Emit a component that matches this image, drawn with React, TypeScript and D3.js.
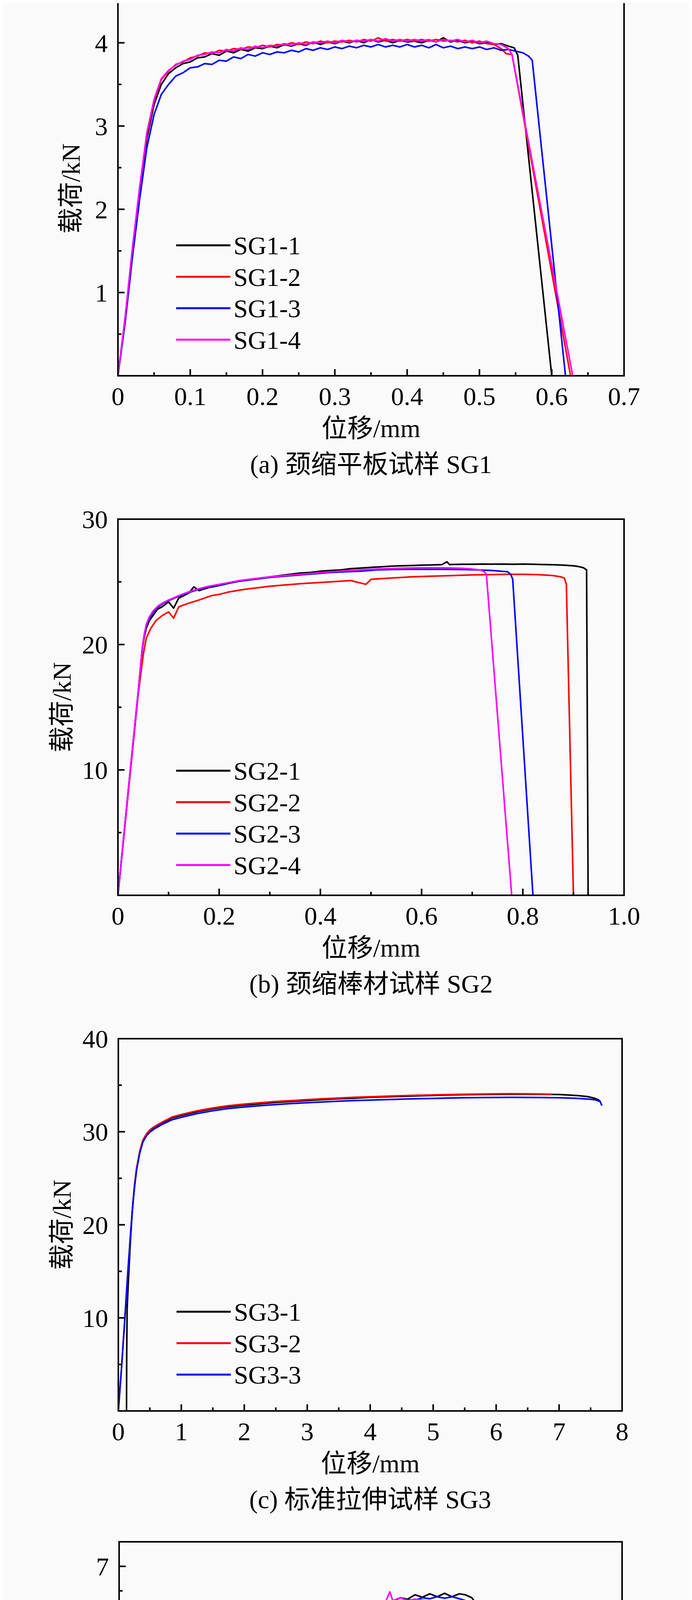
import * as d3 from "d3";

type Pt = [number, number];

// ---------- (a) SG1 ----------
const sg1_1: Pt[] = [[0,0],[0.01,0.68],[0.02,1.5],[0.03,2.22],[0.04,2.85],[0.05,3.26],[0.06,3.5],[0.07,3.63],[0.08,3.7],[0.09,3.75],[0.1,3.77],[0.11,3.82],[0.12,3.83],[0.13,3.87],[0.14,3.85],[0.15,3.9],[0.16,3.88],[0.17,3.92],[0.18,3.9],[0.19,3.94],[0.2,3.93],[0.21,3.96],[0.22,3.94],[0.23,3.98],[0.24,3.96],[0.25,3.99],[0.26,3.97],[0.27,4.01],[0.28,3.98],[0.29,4.01],[0.3,3.99],[0.31,4.02],[0.32,4.0],[0.33,4.03],[0.34,4.0],[0.35,4.04],[0.36,4.01],[0.37,4.03],[0.38,4.0],[0.39,4.03],[0.4,4.01],[0.41,4.02],[0.42,4.0],[0.43,4.03],[0.44,4.01],[0.45,4.06],[0.46,4.01],[0.47,4.03],[0.48,4.0],[0.49,4.02],[0.5,3.99],[0.51,4.0],[0.52,3.98],[0.53,3.99],[0.54,3.96],[0.548,3.94],[0.553,3.85],[0.6,0]];
const sg1_2: Pt[] = [[0,0],[0.01,0.7],[0.02,1.52],[0.03,2.25],[0.04,2.9],[0.05,3.3],[0.06,3.56],[0.07,3.66],[0.08,3.74],[0.09,3.77],[0.1,3.82],[0.11,3.84],[0.12,3.88],[0.13,3.87],[0.14,3.91],[0.15,3.9],[0.16,3.93],[0.17,3.92],[0.18,3.95],[0.19,3.94],[0.2,3.97],[0.21,3.95],[0.22,3.98],[0.23,3.97],[0.24,4.0],[0.25,3.98],[0.26,4.01],[0.27,3.99],[0.28,4.02],[0.29,4.0],[0.3,4.02],[0.31,4.01],[0.32,4.03],[0.33,4.01],[0.34,4.04],[0.35,4.02],[0.36,4.06],[0.37,4.02],[0.38,4.04],[0.39,4.02],[0.4,4.04],[0.41,4.02],[0.42,4.04],[0.43,4.02],[0.44,4.04],[0.45,4.02],[0.46,4.03],[0.47,4.01],[0.48,4.03],[0.49,4.0],[0.5,4.02],[0.51,3.99],[0.52,3.98],[0.53,3.93],[0.537,3.87],[0.545,3.86],[0.626,0]];
const sg1_3: Pt[] = [[0,0],[0.01,0.64],[0.02,1.42],[0.03,2.12],[0.04,2.74],[0.05,3.14],[0.06,3.38],[0.07,3.5],[0.08,3.6],[0.09,3.64],[0.1,3.7],[0.11,3.71],[0.12,3.75],[0.13,3.74],[0.14,3.79],[0.15,3.78],[0.16,3.83],[0.17,3.81],[0.18,3.86],[0.19,3.84],[0.2,3.88],[0.21,3.86],[0.22,3.89],[0.23,3.88],[0.24,3.91],[0.25,3.89],[0.26,3.93],[0.27,3.91],[0.28,3.94],[0.29,3.92],[0.3,3.95],[0.31,3.93],[0.32,3.96],[0.33,3.94],[0.34,3.97],[0.35,3.95],[0.36,3.98],[0.37,3.95],[0.38,3.97],[0.39,3.95],[0.4,3.98],[0.41,3.95],[0.42,3.97],[0.43,3.94],[0.44,3.98],[0.45,3.94],[0.46,3.96],[0.47,3.93],[0.48,3.95],[0.49,3.93],[0.5,3.95],[0.51,3.92],[0.52,3.94],[0.53,3.91],[0.54,3.92],[0.55,3.9],[0.56,3.88],[0.568,3.84],[0.573,3.79],[0.619,0]];
const sg1_4: Pt[] = [[0,0],[0.01,0.7],[0.02,1.53],[0.03,2.26],[0.04,2.92],[0.05,3.32],[0.06,3.57],[0.07,3.67],[0.08,3.73],[0.09,3.78],[0.1,3.8],[0.11,3.85],[0.12,3.86],[0.13,3.89],[0.14,3.88],[0.15,3.92],[0.16,3.9],[0.17,3.94],[0.18,3.92],[0.19,3.96],[0.2,3.94],[0.21,3.97],[0.22,3.96],[0.23,3.99],[0.24,3.97],[0.25,4.0],[0.26,3.98],[0.27,4.01],[0.28,4.0],[0.29,4.02],[0.3,4.0],[0.31,4.03],[0.32,4.01],[0.33,4.03],[0.34,4.02],[0.35,4.04],[0.36,4.02],[0.37,4.05],[0.38,4.02],[0.39,4.04],[0.4,4.02],[0.41,4.04],[0.42,4.02],[0.43,4.04],[0.44,4.01],[0.45,4.04],[0.46,4.02],[0.47,4.04],[0.48,4.01],[0.49,4.03],[0.5,4.0],[0.51,4.02],[0.52,3.99],[0.53,3.98],[0.54,3.93],[0.545,3.86],[0.629,0]];

// ---------- (b) SG2 ----------
const sg2_1: Pt[] = [[0,0],[0.01,4.1],[0.02,8.2],[0.03,12.2],[0.04,16.2],[0.048,19.6],[0.052,20.6],[0.056,21.3],[0.062,21.9],[0.069,22.3],[0.078,22.8],[0.087,23.0],[0.1,23.4],[0.11,22.9],[0.12,23.7],[0.14,24.1],[0.15,24.6],[0.16,24.3],[0.18,24.55],[0.2,24.7],[0.22,24.9],[0.24,25.05],[0.26,25.2],[0.28,25.3],[0.3,25.4],[0.32,25.5],[0.34,25.6],[0.36,25.7],[0.38,25.75],[0.4,25.85],[0.42,25.9],[0.44,25.95],[0.46,26.05],[0.48,26.1],[0.5,26.15],[0.52,26.2],[0.54,26.25],[0.56,26.28],[0.58,26.3],[0.6,26.33],[0.62,26.35],[0.64,26.37],[0.65,26.6],[0.655,26.38],[0.68,26.4],[0.7,26.4],[0.72,26.42],[0.74,26.41],[0.76,26.42],[0.78,26.4],[0.8,26.42],[0.82,26.4],[0.84,26.38],[0.86,26.36],[0.88,26.33],[0.9,26.28],[0.91,26.22],[0.92,26.12],[0.926,25.95],[0.929,0]];
const sg2_2: Pt[] = [[0,0],[0.01,4.0],[0.02,8.0],[0.03,12.0],[0.04,16.0],[0.05,19.2],[0.056,20.5],[0.065,21.3],[0.075,21.9],[0.087,22.3],[0.1,22.6],[0.11,22.1],[0.12,23.0],[0.14,23.3],[0.16,23.55],[0.185,23.9],[0.2,24.0],[0.22,24.2],[0.25,24.4],[0.28,24.55],[0.3,24.65],[0.33,24.75],[0.36,24.85],[0.38,24.9],[0.42,25.0],[0.46,25.1],[0.49,24.8],[0.5,25.2],[0.54,25.3],[0.58,25.4],[0.62,25.45],[0.66,25.5],[0.7,25.55],[0.74,25.58],[0.77,25.6],[0.8,25.6],[0.83,25.58],[0.86,25.5],[0.875,25.4],[0.882,25.3],[0.886,24.8],[0.9,0]];
const sg2_3: Pt[] = [[0,0],[0.01,4.1],[0.02,8.2],[0.03,12.2],[0.04,16.2],[0.048,19.7],[0.052,20.8],[0.056,21.5],[0.062,22.1],[0.07,22.6],[0.08,23.0],[0.09,23.3],[0.1,23.5],[0.12,23.85],[0.14,24.15],[0.16,24.4],[0.18,24.6],[0.2,24.75],[0.22,24.9],[0.24,25.05],[0.26,25.15],[0.28,25.25],[0.3,25.35],[0.33,25.45],[0.36,25.55],[0.39,25.65],[0.42,25.75],[0.45,25.8],[0.48,25.85],[0.51,25.95],[0.54,25.98],[0.57,26.0],[0.6,26.0],[0.64,26.0],[0.68,25.98],[0.71,25.95],[0.74,25.9],[0.77,25.8],[0.776,25.6],[0.78,25.2],[0.82,0]];
const sg2_4: Pt[] = [[0,0],[0.01,4.1],[0.02,8.2],[0.03,12.2],[0.04,16.2],[0.048,19.7],[0.052,20.8],[0.056,21.6],[0.062,22.2],[0.07,22.7],[0.08,23.1],[0.09,23.35],[0.1,23.55],[0.12,23.9],[0.14,24.2],[0.16,24.45],[0.18,24.65],[0.2,24.8],[0.22,24.95],[0.24,25.1],[0.26,25.2],[0.28,25.3],[0.3,25.4],[0.33,25.5],[0.36,25.6],[0.39,25.7],[0.42,25.8],[0.45,25.88],[0.48,25.95],[0.51,26.02],[0.54,26.06],[0.57,26.1],[0.6,26.12],[0.64,26.12],[0.68,26.08],[0.7,26.02],[0.715,25.95],[0.724,25.8],[0.728,25.6],[0.778,0]];

// ---------- (c) SG3 ----------
const sg3_1: Pt[] = [[0.13,0],[0.133,6],[0.14,11],[0.16,14],[0.19,18],[0.22,21.3],[0.25,23.6],[0.29,26.0],[0.34,27.8],[0.39,29.0],[0.45,29.7],[0.5,30.1],[0.57,30.45],[0.7,30.95],[0.86,31.5],[1.0,31.75],[1.25,32.15],[1.5,32.45],[1.75,32.7],[2.0,32.85],[2.25,33.0],[2.5,33.15],[2.75,33.25],[3.0,33.35],[3.25,33.45],[3.5,33.55],[3.75,33.6],[4.0,33.7],[4.25,33.75],[4.5,33.8],[4.75,33.85],[5.0,33.9],[5.25,33.95],[5.5,33.98],[5.75,34.0],[6.0,34.02],[6.25,34.03],[6.5,34.03],[6.75,34.02],[7.0,34.0],[7.15,33.95],[7.3,33.88],[7.45,33.78],[7.55,33.62],[7.62,33.45],[7.66,33.2]];
const sg3_2: Pt[] = [[0,0],[0.05,4.5],[0.1,9.5],[0.15,14.8],[0.2,19.6],[0.23,22.3],[0.26,24.5],[0.29,26.1],[0.34,27.9],[0.39,29.1],[0.45,29.8],[0.5,30.2],[0.57,30.55],[0.7,31.05],[0.86,31.6],[1.0,31.85],[1.25,32.25],[1.5,32.55],[1.75,32.8],[2.0,32.97],[2.25,33.12],[2.5,33.25],[2.75,33.35],[3.0,33.45],[3.25,33.55],[3.5,33.62],[3.75,33.7],[4.0,33.76],[4.25,33.82],[4.5,33.87],[4.75,33.92],[5.0,33.96],[5.25,34.0],[5.5,34.03],[5.75,34.05],[6.0,34.07],[6.25,34.08],[6.5,34.07],[6.75,34.05],[6.88,34.02]];
const sg3_3: Pt[] = [[0,0],[0.05,4.6],[0.1,9.6],[0.15,14.8],[0.2,19.5],[0.23,22.2],[0.26,24.3],[0.29,25.9],[0.34,27.7],[0.39,28.9],[0.45,29.6],[0.5,29.95],[0.57,30.3],[0.7,30.8],[0.86,31.3],[1.0,31.55],[1.25,31.95],[1.5,32.25],[1.75,32.5],[2.0,32.65],[2.25,32.8],[2.5,32.92],[2.75,33.03],[3.0,33.12],[3.25,33.2],[3.5,33.28],[3.75,33.35],[4.0,33.4],[4.25,33.45],[4.5,33.5],[4.75,33.55],[5.0,33.58],[5.25,33.62],[5.5,33.65],[5.75,33.67],[6.0,33.68],[6.25,33.69],[6.5,33.68],[6.75,33.67],[7.0,33.65],[7.25,33.6],[7.45,33.52],[7.58,33.42],[7.65,33.25],[7.68,32.8]];

// ---------- (d) SG4 ----------
const sg4_1: Pt[] = [[0,0],[0.025,0.6],[0.05,1.2],[0.075,1.75],[0.1,2.35],[0.125,2.9],[0.15,3.55],[0.175,4.1],[0.2,4.45],[0.225,4.62],[0.25,4.85],[0.275,4.92],[0.3,5.08],[0.325,5.12],[0.35,5.27],[0.375,5.3],[0.4,5.42],[0.425,5.45],[0.45,5.56],[0.475,5.57],[0.5,5.68],[0.525,5.7],[0.55,5.8],[0.575,5.81],[0.6,5.9],[0.625,5.9],[0.65,5.99],[0.675,5.98],[0.7,6.05],[0.725,6.04],[0.75,6.12],[0.775,6.1],[0.8,6.17],[0.825,6.16],[0.85,6.25],[0.875,6.22],[0.9,6.3],[0.925,6.28],[0.95,6.36],[0.975,6.33],[1.0,6.42],[1.025,6.37],[1.05,6.44],[1.075,6.38],[1.1,6.45],[1.125,6.38],[1.15,6.44],[1.17,6.42],[1.192,6.36],[1.213,6.19],[1.235,6.12],[1.258,6.06],[1.28,6.04],[1.303,6.0],[1.325,5.98],[1.347,5.93],[1.369,5.85],[1.391,5.7],[1.414,5.55],[1.436,5.39],[1.441,5.36],[1.452,4.8],[1.469,4.38],[1.48,2.87],[1.5,0]];
const sg4_2: Pt[] = [[0,0],[0.025,0.58],[0.05,1.18],[0.075,1.74],[0.1,2.33],[0.125,2.88],[0.15,3.52],[0.175,4.08],[0.2,4.43],[0.225,4.63],[0.25,4.82],[0.275,4.95],[0.3,5.05],[0.325,5.14],[0.35,5.24],[0.375,5.33],[0.4,5.4],[0.425,5.48],[0.45,5.53],[0.475,5.6],[0.5,5.64],[0.525,5.73],[0.55,5.76],[0.575,5.84],[0.6,5.86],[0.625,5.93],[0.65,5.94],[0.675,6.0],[0.7,6.0],[0.725,6.05],[0.75,6.05],[0.775,6.09],[0.8,6.07],[0.825,6.11],[0.85,6.08],[0.875,6.13],[0.9,6.09],[0.925,6.14],[0.95,6.09],[0.975,6.13],[1.0,6.08],[1.025,6.12],[1.05,6.03],[1.075,6.04],[1.097,6.0],[1.12,5.85],[1.142,5.5],[1.16,5.2],[1.175,4.8],[1.186,4.7],[1.235,2.87],[1.305,0]];
const sg4_3: Pt[] = [[0,0],[0.025,0.58],[0.05,1.17],[0.075,1.73],[0.1,2.32],[0.125,2.87],[0.15,3.5],[0.175,4.05],[0.2,4.38],[0.225,4.58],[0.25,4.76],[0.275,4.9],[0.3,5.0],[0.325,5.1],[0.35,5.18],[0.375,5.28],[0.4,5.34],[0.425,5.43],[0.45,5.48],[0.475,5.56],[0.5,5.6],[0.525,5.68],[0.55,5.72],[0.575,5.8],[0.6,5.83],[0.625,5.9],[0.65,5.92],[0.675,5.98],[0.7,6.0],[0.725,6.05],[0.75,6.06],[0.775,6.11],[0.8,6.12],[0.825,6.17],[0.85,6.18],[0.875,6.22],[0.9,6.23],[0.925,6.27],[0.95,6.28],[0.975,6.32],[1.0,6.31],[1.025,6.36],[1.05,6.34],[1.075,6.38],[1.1,6.35],[1.125,6.38],[1.15,6.34],[1.171,6.3],[1.2,6.16],[1.23,6.08],[1.258,6.02],[1.28,5.84],[1.303,5.31],[1.319,5.18],[1.33,4.6],[1.345,2.87],[1.36,0]];
const sg4_4: Pt[] = [[0,0],[0.025,0.6],[0.05,1.2],[0.075,1.76],[0.1,2.36],[0.125,2.9],[0.15,3.56],[0.175,4.12],[0.2,4.47],[0.225,4.68],[0.25,4.84],[0.275,4.99],[0.3,5.07],[0.325,5.18],[0.35,5.25],[0.375,5.36],[0.4,5.41],[0.425,5.52],[0.45,5.55],[0.475,5.64],[0.5,5.67],[0.525,5.76],[0.55,5.79],[0.575,5.86],[0.6,5.89],[0.625,5.96],[0.65,5.98],[0.675,6.04],[0.7,6.05],[0.725,6.1],[0.75,6.11],[0.775,6.16],[0.8,6.16],[0.825,6.22],[0.85,6.22],[0.875,6.3],[0.9,6.27],[0.915,6.48],[0.925,6.3],[0.95,6.36],[0.975,6.3],[1.0,6.33],[1.036,6.3],[1.07,6.2],[1.102,6.11],[1.13,6.0],[1.158,5.95],[1.19,5.92],[1.213,5.71],[1.235,5.44],[1.247,5.26],[1.263,4.62],[1.269,4.33],[1.28,2.87],[1.302,0]];

// tick values and labels
const xTicksA = [0, 0.1, 0.2, 0.3, 0.4, 0.5, 0.6, 0.7];
const xLabelsA = ["0", "0.1", "0.2", "0.3", "0.4", "0.5", "0.6", "0.7"];
const yTicksA = [1, 2, 3, 4];
const xTicksB = [0, 0.2, 0.4, 0.6, 0.8, 1.0];
const xLabelsB = ["0", "0.2", "0.4", "0.6", "0.8", "1.0"];
const yTicksB = [10, 20, 30];
const xTicksC = [0, 1, 2, 3, 4, 5, 6, 7, 8];
const xLabelsC = ["0", "1", "2", "3", "4", "5", "6", "7", "8"];
const yTicksC = [10, 20, 30, 40];
const xTicksD = [0, 0.2, 0.4, 0.6, 0.8, 1.0, 1.2, 1.4, 1.6];
const xLabelsD = ["0", "0.2", "0.4", "0.6", "0.8", "1.0", "1.2", "1.4", "1.6"];
const yTicksD = [1, 2, 3, 4, 5, 6, 7];

const colors = ["#000000", "#ff0000", "#0000ff", "#ff00ff"];
const FONT = "'Liberation Serif', 'Times New Roman', 'Noto Sans CJK SC', serif";
const FS = 66;

interface PanelProps {
  left: number; right: number; top: number; bottom: number;
  xDomain: [number, number]; yDomain: [number, number];
  xTicks: number[]; xLabels: string[]; xMinorStep: number;
  yTicks: number[]; yMinorStep: number;
  series: Pt[][]; names: string[];
  legendY: number; yTitleX: number; caption: string;
}

function Panel(p: PanelProps) {
  const x = d3.scaleLinear(p.xDomain, [p.left, p.right]);
  const y = d3.scaleLinear(p.yDomain, [p.bottom, p.top]);
  const line = d3.line<Pt>((d) => x(d[0]), (d) => y(d[1]));
  const xMinor = d3.range(p.xDomain[0] + p.xMinorStep, p.xDomain[1], p.xMinorStep * 2);
  const yMinor = d3.range(p.yDomain[0] + p.yMinorStep, p.yDomain[1] + 1e-9, p.yMinorStep * 2);
  const cx = (p.left + p.right) / 2;
  return (
    <g fontFamily={FONT} fontSize={FS} fill="#000">
      <defs>
        <clipPath id={`clip${p.top}`}>
          <rect x={p.left} y={p.top - 10} width={p.right - p.left} height={p.bottom - p.top + 20} />
        </clipPath>
      </defs>
      <g clipPath={`url(#clip${p.top})`}>
        {p.series.map((s, i) => (
          <path key={i} d={line(s) || undefined} fill="none" stroke={colors[i]} strokeWidth={4} strokeLinejoin="round" />
        ))}
      </g>
      <rect x={p.left} y={p.top} width={p.right - p.left} height={p.bottom - p.top} fill="none" stroke="#000" strokeWidth={4} />
      {p.xTicks.map((t, i) => (
        <g key={"xt" + i}>
          <line x1={x(t)} x2={x(t)} y1={p.bottom} y2={p.bottom - 17} stroke="#000" strokeWidth={4} />
          <text x={x(t)} y={p.bottom + 75} textAnchor="middle">{p.xLabels[i]}</text>
        </g>
      ))}
      {xMinor.map((t, i) => (
        <line key={"xm" + i} x1={x(t)} x2={x(t)} y1={p.bottom} y2={p.bottom - 9} stroke="#000" strokeWidth={4} />
      ))}
      {p.yTicks.map((t, i) => (
        <g key={"yt" + i}>
          <line x1={p.left} x2={p.left + 17} y1={y(t)} y2={y(t)} stroke="#000" strokeWidth={4} />
          <text x={p.left - 26} y={y(t) + 23} textAnchor="end">{t}</text>
        </g>
      ))}
      {yMinor.map((t, i) => (
        <line key={"ym" + i} x1={p.left} x2={p.left + 9} y1={y(t)} y2={y(t)} stroke="#000" strokeWidth={4} />
      ))}
      {p.names.map((n, i) => (
        <g key={"lg" + i}>
          <line x1={p.left + 149} x2={p.left + 288} y1={p.legendY + i * 80.5} y2={p.legendY + i * 80.5} stroke={colors[i]} strokeWidth={5} />
          <text x={p.left + 296} y={p.legendY + i * 80.5 + 23}>{n}</text>
        </g>
      ))}
      <text transform={`translate(${p.yTitleX},${(p.top + p.bottom) / 2}) rotate(-90)`} textAnchor="middle" dominantBaseline="central">载荷/kN</text>
      <text x={cx} y={p.bottom + 157} textAnchor="middle">位移/mm</text>
      <text x={cx} y={p.bottom + 249} textAnchor="middle">{p.caption}</text>
    </g>
  );
}

export default function App() {
  return (
    <svg width={1772} height={5153} style={{ display: "block", margin: "-8px -8px 0 -8px", background: "#fafafa" }}>
      <rect width={1772} height={5153} fill="#fafafa" />
      <Panel left={302} right={1598} top={3} bottom={962} xDomain={[0, 0.7]} yDomain={[0, 4.5]}
        xTicks={xTicksA} xLabels={xLabelsA} xMinorStep={0.05} yTicks={yTicksA} yMinorStep={0.5}
        series={[sg1_1, sg1_2, sg1_3, sg1_4]} names={["SG1-1", "SG1-2", "SG1-3", "SG1-4"]}
        legendY={628} yTitleX={181} caption="(a) 颈缩平板试样 SG1" />
      <Panel left={302} right={1598} top={1329} bottom={2292} xDomain={[0, 1]} yDomain={[0, 30]}
        xTicks={xTicksB} xLabels={xLabelsB} xMinorStep={0.1} yTicks={yTicksB} yMinorStep={5}
        series={[sg2_1, sg2_2, sg2_3, sg2_4]} names={["SG2-1", "SG2-2", "SG2-3", "SG2-4"]}
        legendY={1973} yTitleX={158} caption="(b) 颈缩棒材试样 SG2" />
      <Panel left={303} right={1593} top={2659} bottom={3612} xDomain={[0, 8]} yDomain={[0, 40]}
        xTicks={xTicksC} xLabels={xLabelsC} xMinorStep={0.5} yTicks={yTicksC} yMinorStep={5}
        series={[sg3_1, sg3_2, sg3_3]} names={["SG3-1", "SG3-2", "SG3-3"]}
        legendY={3358} yTitleX={158} caption="(c) 标准拉伸试样 SG3" />
      <Panel left={305} right={1593} top={3947} bottom={4889} xDomain={[0, 1.7]} yDomain={[0, 7.5]}
        xTicks={xTicksD} xLabels={xLabelsD} xMinorStep={0.1} yTicks={yTicksD} yMinorStep={0.5}
        series={[sg4_1, sg4_2, sg4_3, sg4_4]} names={["SG4-1", "SG4-2", "SG4-3", "SG4-4"]}
        legendY={4557} yTitleX={186} caption="(d) 纯剪切试样 SG4" />
    </svg>
  );
}
